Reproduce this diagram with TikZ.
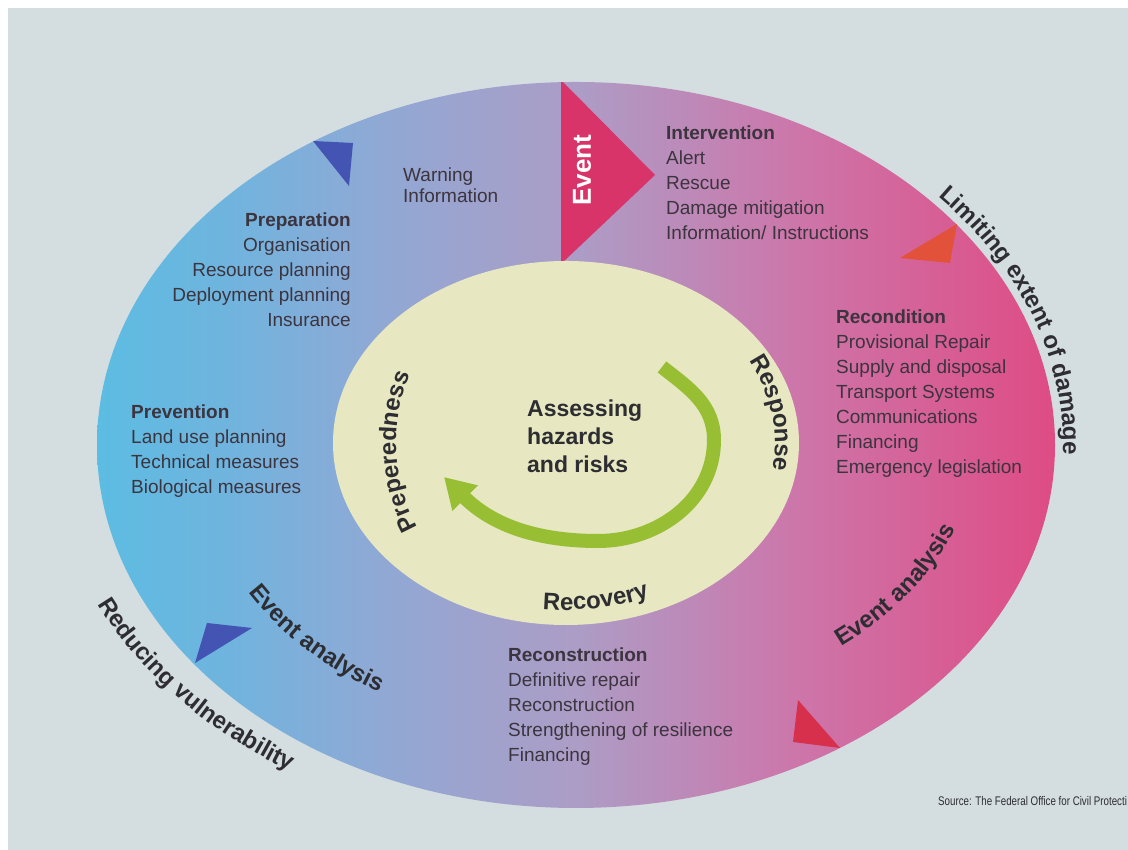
\documentclass[tikz,border=0pt]{standalone}
\usepackage{fontspec}
\setmainfont{Liberation Sans}
\usepackage{graphicx}
\usetikzlibrary{decorations.text,arrows.meta}
\definecolor{bgc}{RGB}{212,221,224}
\definecolor{c0}{RGB}{92,188,226}
\definecolor{c1}{RGB}{112,180,222}
\definecolor{c2}{RGB}{145,168,212}
\definecolor{c3}{RGB}{172,157,198}
\definecolor{c4}{RGB}{205,118,170}
\definecolor{c5}{RGB}{222,76,132}
\definecolor{innerc}{RGB}{231,231,193}
\definecolor{txt}{RGB}{60,52,62}
\definecolor{lab}{RGB}{45,45,50}
\definecolor{eventc}{RGB}{216,52,105}
\definecolor{bluet}{RGB}{68,84,178}
\definecolor{redtA}{RGB}{226,82,58}
\definecolor{redtB}{RGB}{214,48,76}
\definecolor{greenc}{RGB}{152,191,52}
\pgfdeclarehorizontalshading{ringshade}{100bp}{color(0bp)=(c0); color(25bp)=(c0); color(32bp)=(c1); color(40bp)=(c2); color(50bp)=(c3); color(61.5bp)=(c4); color(75bp)=(c5); color(100bp)=(c5)}
\newcommand\lblfont{\fontsize{24}{24}\selectfont\bfseries}
\begin{document}
\begin{tikzpicture}[x=1pt,y=1pt,
  item/.style={font=\fontsize{19}{25}\selectfont, text=txt, inner sep=0pt},
  head/.style={item, font=\fontsize{19}{25}\selectfont\bfseries},
  centertxt/.style={font=\fontsize{23}{28}\selectfont\bfseries, text=lab, inner sep=0pt},
  curved/.style={decorate, decoration={text along path, text color=lab, text align=center, text={|\lblfont|#1}}}]
\useasboundingbox (0,0) rectangle (1128,850);
\fill[white] (0,0) rectangle (1128,850);
\fill[bgc] (8,0) rectangle (1128,842);
% ring
\shade[shading=ringshade] (576,405) ellipse [x radius=479pt, y radius=363pt];
\begin{scope}
  \clip (576,405) ellipse [x radius=479pt, y radius=363pt];
  \fill[eventc] (561,770) -- (655,675) -- (561,586) -- cycle;
\end{scope}
% inner ellipse
\fill[innerc] (566,407) ellipse [x radius=233pt, y radius=182pt];
% triangles
\fill[bluet] (313,709) -- (353,707) -- (349,664) -- cycle;
\fill[bluet] (207,227) -- (252,222) -- (195,187) -- cycle;
\fill[redtA] (900,592) -- (957,626) -- (950,587) -- cycle;
\fill[redtB] (798,150) -- (793,108) -- (840,102) -- cycle;
% event
\node[rotate=90, font=\fontsize{26}{26}\selectfont\bfseries, text=white, inner sep=0pt] (event) at (582,680) {Event};
% green arrow
\coordinate (gs) at (662,483);
\coordinate (gr) at (714,410);
\coordinate (gb) at (598,309);
\coordinate (gt) at (444,373);
\draw[greenc, line width=14pt, -{Triangle[length=30pt,width=34pt]}] (gs) to[out=-38,in=90] (gr) to[out=-90,in=0] (gb) to[out=180,in=-45] (gt);
% centre text
\node[centertxt, anchor=base west] (ca) at (527,433) {Assessing};
\node[centertxt, anchor=base west] (cb) at (527,405) {hazards};
\node[centertxt, anchor=base west] (cc) at (527,377) {and risks};
% warning
\node[item, anchor=base west] (warn1) at (403,668) {Warning};
\node[item, anchor=base west] (warn2) at (403,647) {Information};
% intervention
\node[head, anchor=base west] (intH) at (666,710) {Intervention};
\foreach \t [count=\i] in {Alert, Rescue, Damage mitigation, Information/ Instructions}
  \node[item, anchor=base west] (int\i) at (666,710-25*\i) {\t};
% preparation
\node[head, anchor=base east] (prepH) at (351,623) {Preparation};
\foreach \t [count=\i] in {Organisation, Resource planning, Deployment planning, Insurance}
  \node[item, anchor=base east] (prep\i) at (351,623-25*\i) {\t};
% recondition
\node[head, anchor=base west] (recH) at (836,526) {Recondition};
\foreach \t [count=\i] in {Provisional Repair, Supply and disposal, Transport Systems, Communications, Financing, Emergency legislation}
  \node[item, anchor=base west] (rec\i) at (836,526-25*\i) {\t};
% prevention
\node[head, anchor=base west] (prevH) at (131,431) {Prevention};
\foreach \t [count=\i] in {Land use planning, Technical measures, Biological measures}
  \node[item, anchor=base west] (prev\i) at (131,431-25*\i) {\t};
% reconstruction
\node[head, anchor=base west] (conH) at (508,188) {Reconstruction};
\foreach \t [count=\i] in {Definitive repair, Reconstruction, Strengthening of resilience, Financing}
  \node[item, anchor=base west] (con\i) at (508,188-25*\i) {\t};
% curved labels
\path[curved={Limiting extent of damage}] (576,405) ++(51:487pt and 372pt) arc[start angle=51, end angle=-12, x radius=487pt, y radius=372pt];
\path[curved={Reducing vulnerability}] (576,405) ++(193:524pt and 389pt) arc[start angle=193, end angle=246, x radius=524pt, y radius=389pt];
\path[curved={Event analysis}] (576,405) ++(200:381pt and 289pt) arc[start angle=200, end angle=248, x radius=381pt, y radius=289pt];
\path[curved={Event analysis}] (576,405) ++(-57:399pt and 270pt) arc[start angle=-57, end angle=-7, x radius=399pt, y radius=270pt];
\path[curved={Preperedness}] (566,407) ++(221:170pt and 172pt) arc[start angle=221, end angle=145, x radius=170pt, y radius=172pt];
\path[curved={Response}] (566,407) ++(40:209pt and 172pt) arc[start angle=40, end angle=-21, x radius=209pt, y radius=172pt];
\path[curved={Recovery}] (566,407) ++(254:215pt and 167pt) arc[start angle=254, end angle=303, x radius=215pt, y radius=167pt];
% source
\node[anchor=base west, inner sep=0pt, text=lab] (src) at (938,44) {\scalebox{0.78}[1]{\fontsize{12.5}{13}\selectfont Source: The Federal Office for Civil Protecti}};
\end{tikzpicture}
\end{document}
